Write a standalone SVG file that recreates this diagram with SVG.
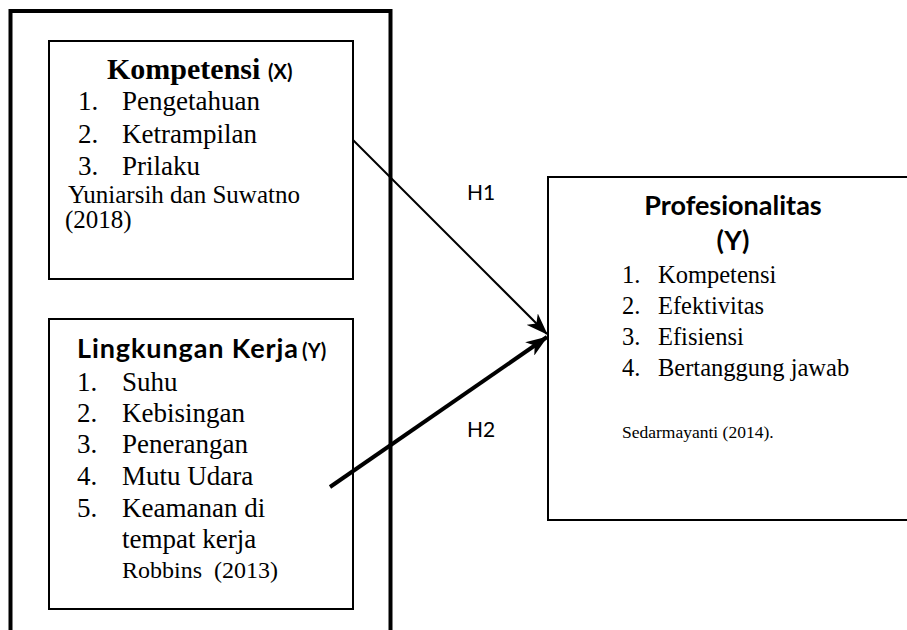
<svg xmlns="http://www.w3.org/2000/svg" width="907" height="630" viewBox="0 0 907 630">
<style>
.box{fill:#fff;stroke:#000;stroke-width:2}
.outer{fill:none;stroke:#000;stroke-width:4}
.serif{font-family:"Liberation Serif","Times New Roman",serif;font-size:27px;fill:#000}
.serifr{font-family:"Liberation Serif","Times New Roman",serif;font-size:24.5px;fill:#000}
.cite{font-family:"Liberation Serif","Times New Roman",serif;fill:#000}
.hser{font-family:"Liberation Serif","Times New Roman",serif;font-size:30px;font-weight:bold;fill:#000}
.hsan{font-family:"Lato","Liberation Sans",sans-serif;font-weight:bold;fill:#000}
.lbl{font-family:"Lato","Liberation Sans",sans-serif;font-size:21px;fill:#000}
.conn{fill:none;stroke:#000}
</style>
<defs>
<marker id="arr" markerUnits="userSpaceOnUse" markerWidth="22" markerHeight="16" viewBox="0 0 22 16" refX="21" refY="8" orient="auto">
<path d="M0,0 L22,8 L0,16 L6,8 z" fill="#000"/>
</marker>
</defs>
<rect width="907" height="630" fill="#fff"/>
<g id="frame"><rect class="outer" x="10.5" y="11" width="380" height="640"/></g>

<g id="kompetensi">
<rect class="box" x="49" y="41" width="304" height="238"/>
<text class="hser" x="107" y="79">Kompetensi</text>
<text class="hsan" x="268" y="79" font-size="20">(X)</text>
<text class="serif" x="78" y="110">1.</text><text class="serif" x="122" y="110">Pengetahuan</text>
<text class="serif" x="78" y="143">2.</text><text class="serif" x="122" y="143">Ketrampilan</text>
<text class="serif" x="78" y="175">3.</text><text class="serif" x="122" y="175">Prilaku</text>
<text class="cite" x="68" y="203" font-size="25">Yuniarsih dan Suwatno</text>
<text class="cite" x="65" y="228" font-size="25">(2018)</text>
</g>

<g id="lingkungan">
<rect class="box" x="49" y="319" width="304" height="290"/>
<text class="hsan" x="77" y="358" font-size="27" textLength="221">Lingkungan Kerja</text>
<text class="hsan" x="302" y="358" font-size="20">(Y)</text>
<text class="serif" x="77" y="391">1.</text><text class="serif" x="122" y="391">Suhu</text>
<text class="serif" x="77" y="422">2.</text><text class="serif" x="122" y="422">Kebisingan</text>
<text class="serif" x="77" y="453">3.</text><text class="serif" x="122" y="453">Penerangan</text>
<text class="serif" x="77" y="485">4.</text><text class="serif" x="122" y="485">Mutu Udara</text>
<text class="serif" x="77" y="517">5.</text><text class="serif" x="122" y="517">Keamanan di</text>
<text class="serif" x="122" y="548">tempat kerja</text>
<text class="cite" x="122" y="578" font-size="24" xml:space="preserve">Robbins  (2013)</text>
</g>

<g id="profesionalitas">
<rect class="box" x="548" y="177" width="370" height="343"/>
<text class="hsan" x="733" y="215" font-size="27" text-anchor="middle">Profesionalitas</text>
<text class="hsan" x="733" y="250" font-size="27" text-anchor="middle">(Y)</text>
<text class="serifr" x="622" y="283">1.</text><text class="serifr" x="658" y="283">Kompetensi</text>
<text class="serifr" x="622" y="314">2.</text><text class="serifr" x="658" y="314">Efektivitas</text>
<text class="serifr" x="622" y="345">3.</text><text class="serifr" x="658" y="345">Efisiensi</text>
<text class="serifr" x="622" y="376">4.</text><text class="serifr" x="658" y="376">Bertanggung jawab</text>
<text class="cite" x="622" y="438" font-size="17.5">Sedarmayanti (2014).</text>
</g>

<g id="connectors">
<line class="conn" x1="353" y1="140" x2="547" y2="334" stroke-width="2" marker-end="url(#arr)"/>
<line class="conn" x1="330" y1="487" x2="547" y2="337" stroke-width="4" marker-end="url(#arr)"/>
<text class="lbl" x="467" y="200">H1</text>
<text class="lbl" x="467" y="437">H2</text>
</g>
</svg>
